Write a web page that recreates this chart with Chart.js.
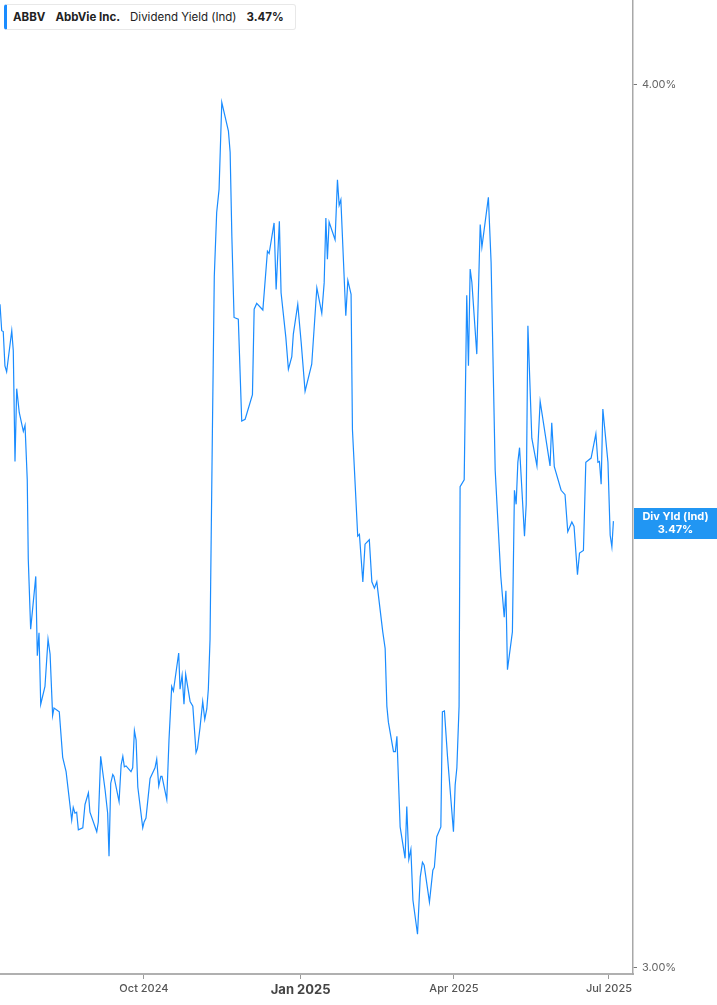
<!DOCTYPE html>
<html>
<head>
<meta charset="utf-8">
<script src="https://cdn.jsdelivr.net/npm/chart.js@4.4.1/dist/chart.umd.min.js"></script>
<style>
  html, body { margin: 0; padding: 0; background: #fff; }
  #wrap { position: relative; width: 717px; height: 1005px; font-family: Inter, "Noto Sans", sans-serif; }
  #legend {
    position: absolute; left: 4px; top: 4px; height: 26px; width: 292px;
    border: 1px solid #e8e8e8; border-left: 3px solid #1a8cff; border-radius: 3px;
    background: #fff; box-sizing: border-box; display: flex; align-items: center;
    font-size: 11.5px; color: #222; white-space: nowrap; padding-left: 6px;
  }
  #legend span { margin-right: 10px; }
  #legend b { font-weight: 700; margin-right: 10px; }
</style>
</head>
<body>
<div id="wrap">
  <canvas id="chart" width="717" height="1005"></canvas>
  <div id="legend"><b>ABBV</b><b>AbbVie Inc.</b><span>Dividend Yield (Ind)</span><b>3.47%</b></div>
</div>
<script>
// days counted from 2024-07-01, values in percent
const days = [
  7.5, 8.5, 9.4, 10.4, 11.4, 14.4, 15.3, 16.3, 17.3, 18.8, 21.2, 22.2, 23.5, 24.1, 25.5, 28.5, 29.4, 30.4, 31.4, 33.9,
  35.7, 36.9, 38.4, 39.2, 42.3, 44.3, 46.3, 49.6, 50.5, 51.5, 52.5, 53.5, 56.1, 57.4, 59.4, 60.3, 64.3, 65.2, 66.6, 69.2,
  70.7, 71.5, 72.5, 73.7, 74.4, 77.4, 78.6, 79.6, 80.5, 81.5, 84.4, 85.4, 86.4, 87.4, 88.4, 91.3, 92.1, 93.2, 95.6, 98.5,
  99.5, 100.7, 101.9, 102.6, 105.4, 106.7, 108.3, 109.3, 112.4, 113.2, 114.4, 115.5, 116.5, 119.1, 120.7, 122.6, 123.4, 124.9, 126.5, 127.7,
  128.9, 129.8, 130.8, 132.2, 133.3, 134.7, 136.1, 137.7, 141.6, 142.6, 143.6, 144.9, 147.4, 149.4, 151.4, 155.7, 156.7, 158.2, 161.8, 164.5,
  165.5, 168.4, 169.6, 171.5, 172.5, 175.3, 176.8, 178.8, 179.7, 182.3, 184.3, 186.6, 190.5, 193.5, 196.4, 197.8, 198.8, 199.7, 200.7, 204.2,
  205.6, 206.6, 207.6, 210.5, 211.7, 213.6, 214.4, 217.5, 218.5, 220.5, 221.8, 224.3, 225.8, 227.3, 228.7, 232.2, 233.6, 234.6, 235.5, 238.5,
  239.6, 240.5, 242.4, 245.3, 246.3, 247.5, 248.7, 249.9, 252.6, 254.2, 255.5, 256.5, 259.6, 261.6, 262.5, 263.9, 266.3, 267.2, 268.4, 270.2,
  273.7, 274.7, 275.7, 277.0, 277.6, 280.0, 281.5, 282.5, 283.5, 284.5, 287.4, 289.4, 290.4, 294.2, 295.8, 298.2, 301.5, 303.5, 304.5, 305.4,
  308.3, 309.5, 310.5, 311.5, 312.5, 315.4, 316.4, 317.4, 319.7, 322.7, 324.6, 330.4, 331.4, 332.9, 336.9, 339.2, 340.8, 343.2, 344.5, 346.5,
  347.7, 350.0, 351.4, 354.5, 357.3, 358.5, 359.4, 360.4, 361.4, 364.4, 365.7, 366.7, 367.6
];
const yields = [
  3.724, 3.692, 3.691, 3.650, 3.643, 3.692, 3.668, 3.538, 3.623, 3.595, 3.573, 3.580, 3.517, 3.427, 3.350, 3.408, 3.321, 3.346, 3.269, 3.288,
  3.339, 3.323, 3.257, 3.265, 3.261, 3.213, 3.198, 3.148, 3.161, 3.155, 3.156, 3.138, 3.140, 3.164, 3.176, 3.156, 3.136, 3.146, 3.214, 3.179,
  3.155, 3.111, 3.186, 3.195, 3.193, 3.167, 3.205, 3.214, 3.203, 3.204, 3.198, 3.202, 3.241, 3.231, 3.182, 3.140, 3.146, 3.150, 3.191, 3.202,
  3.211, 3.183, 3.193, 3.193, 3.169, 3.231, 3.288, 3.283, 3.324, 3.285, 3.300, 3.269, 3.301, 3.272, 3.267, 3.218, 3.222, 3.244, 3.272, 3.253,
  3.264, 3.285, 3.339, 3.575, 3.758, 3.837, 3.866, 3.977, 3.940, 3.913, 3.808, 3.708, 3.706, 3.585, 3.587, 3.616, 3.718, 3.725, 3.717, 3.789,
  3.786, 3.824, 3.742, 3.826, 3.738, 3.684, 3.646, 3.661, 3.688, 3.724, 3.678, 3.620, 3.652, 3.744, 3.713, 3.750, 3.830, 3.779, 3.825, 3.803,
  3.878, 3.846, 3.853, 3.710, 3.753, 3.736, 3.575, 3.453, 3.455, 3.402, 3.444, 3.449, 3.402, 3.395, 3.402, 3.347, 3.329, 3.267, 3.250, 3.219,
  3.219, 3.235, 3.141, 3.109, 3.162, 3.108, 3.118, 3.067, 3.033, 3.090, 3.105, 3.102, 3.065, 3.097, 3.100, 3.131, 3.141, 3.261, 3.262, 3.214,
  3.136, 3.184, 3.202, 3.267, 3.509, 3.517, 3.735, 3.650, 3.767, 3.751, 3.664, 3.822, 3.794, 3.856, 3.775, 3.528, 3.408, 3.363, 3.392, 3.306,
  3.347, 3.505, 3.489, 3.537, 3.554, 3.453, 3.489, 3.698, 3.565, 3.533, 3.608, 3.533, 3.583, 3.532, 3.505, 3.500, 3.458, 3.469, 3.464, 3.410,
  3.434, 3.437, 3.537, 3.542, 3.570, 3.537, 3.538, 3.512, 3.599, 3.537, 3.454, 3.441, 3.47
];
const tickDays = [92, 184, 274, 365];
const tickLabels = ["Oct 2024", "Jan 2025", "Apr 2025", "Jul 2025"];
const yTicks = [3, 4];
const seriesLabel = ["Div Yld (Ind)", "3.47%"];

const lineColor = "#1a8cff";

const lastValueTag = {
  id: "lastValueTag",
  afterDraw(chart) {
    const { ctx, chartArea, scales } = chart;
    const y = scales.y.getPixelForValue(yields[yields.length - 1]);
    const x0 = chartArea.right + 1;
    const w = chart.width - x0;
    const h = 31;
    const top = Math.round(y - 13);
    ctx.save();
    ctx.fillStyle = "#2196f3";
    ctx.fillRect(x0, top, w, h);
    ctx.fillStyle = "#fff";
    ctx.font = "700 11px Inter, 'Noto Sans', sans-serif";
    ctx.textAlign = "center";
    ctx.textBaseline = "middle";
    ctx.fillText(seriesLabel[0], x0 + w / 2, top + 9);
    ctx.fillText(seriesLabel[1], x0 + w / 2, top + 22);
    ctx.restore();
  },
};

new Chart(document.getElementById("chart"), {
  type: "line",
  data: {
    datasets: [
      {
        data: days.map((d, i) => ({ x: d, y: yields[i] })),
        borderColor: lineColor,
        borderWidth: 1.2,
        pointRadius: 0,
        tension: 0,
        fill: false,
      },
    ],
  },
  options: {
    responsive: false,
    animation: false,
    layout: { padding: 0 },
    plugins: { legend: { display: false }, tooltip: { enabled: false } },
    scales: {
      x: {
        type: "linear",
        min: 7.5,
        max: 379.1,
        afterBuildTicks: (scale) => {
          scale.ticks = tickDays.map((v) => ({ value: v }));
        },
        afterFit: (scale) => {
          scale.height = 31;
          scale.paddingLeft = 0;
          scale.paddingRight = 0;
        },
        border: { display: true, color: "#b0b0b0", width: 2 },
        grid: { drawOnChartArea: false, drawTicks: true, tickLength: 5, color: "#999" },
        ticks: {
          autoSkip: false,
          maxRotation: 0,
          padding: 3,
          color: (c) => (c.index === 1 ? "#444" : "#555"),
          font: (c) =>
            c.index === 1
              ? { family: "Inter, 'Noto Sans', sans-serif", size: 13, weight: "700" }
              : { family: "Inter, 'Noto Sans', sans-serif", size: 11, weight: "500" },
          callback: (v) => tickLabels[tickDays.indexOf(v)],
        },
      },
      y: {
        type: "logarithmic",
        position: "right",
        min: 2.994,
        max: 4.112,
        afterBuildTicks: (scale) => {
          scale.ticks = yTicks.map((v) => ({ value: v }));
        },
        afterFit: (scale) => {
          scale.width = 84;
          scale.paddingTop = 0;
          scale.paddingBottom = 0;
        },
        border: { display: true, color: "#a8a8a8", width: 1.5 },
        grid: { drawOnChartArea: false, drawTicks: true, tickLength: 4, color: "#777" },
        ticks: {
          padding: 5,
          color: "#666",
          font: { family: "Inter, 'Noto Sans', sans-serif", size: 11 },
          callback: (v) => Number(v).toFixed(2) + "%",
        },
      },
    },
  },
  plugins: [lastValueTag],
});
</script>
</body>
</html>
